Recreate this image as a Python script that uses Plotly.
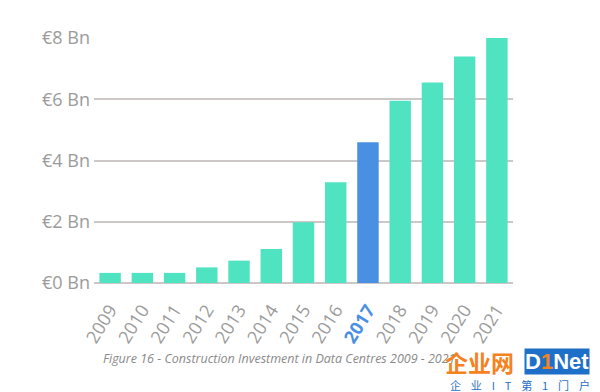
import plotly.graph_objects as go

years = ["2009", "2010", "2011", "2012", "2013", "2014", "2015", "2016", "2017", "2018", "2019", "2020", "2021"]
values = [0.33, 0.33, 0.33, 0.51, 0.73, 1.11, 1.98, 3.29, 4.6, 5.95, 6.55, 7.4, 8.0]
highlight_year = "2017"
y_ticks = [0, 2, 4, 6, 8]
y_tick_labels = ["€0 Bn", "€2 Bn", "€4 Bn", "€6 Bn", "€8 Bn"]
caption = "Figure 16 - Construction Investment in Data Centres 2009 - 2021"

TEAL = "#50E3C2"
BLUE = "#4A90E2"
colors = [BLUE if y == highlight_year else TEAL for y in years]
tick_text = [f"<b><span style='color:{BLUE}'>{y}</span></b>" if y == highlight_year else y for y in years]

fig = go.Figure(go.Bar(x=years, y=values, marker=dict(color=colors, line=dict(width=0))))

FONT = "Open Sans, sans-serif"
fig.update_layout(
    width=600, height=392,
    margin=dict(l=94, r=87, t=38, b=109),
    paper_bgcolor="white", plot_bgcolor="white",
    bargap=0.335,
    showlegend=False,
    font=dict(family=FONT, color="#9b9b9b"),
    xaxis=dict(
        tickmode="array", tickvals=years, ticktext=tick_text,
        tickangle=-58, tickfont=dict(size=18, color="#9b9b9b", family=FONT),
        showgrid=False, showline=False, ticks="", automargin=False,
        ticklabelstandoff=12,
    ),
    yaxis=dict(
        range=[0, 8], tickmode="array", tickvals=y_ticks, ticktext=y_tick_labels,
        tickfont=dict(size=18, color="#9b9b9b", family=FONT),
        showgrid=True, gridcolor="#cdc8c6", gridwidth=2,
        zeroline=True, zerolinecolor="#cdc8c6", zerolinewidth=2,
        showline=False, ticks="", automargin=False, ticklabelstandoff=3,
    ),
    annotations=[
        dict(text=f"<i>{caption}</i>", xref="paper", yref="paper", x=(279 - 94) / 419, y=(283 - 358) / 245,
             xanchor="center", yanchor="middle", showarrow=False,
             font=dict(size=12.5, color="#8a8a8a", family=FONT)),
        dict(text="<b>企业网</b>", xref="paper", yref="paper", x=(479 - 94) / 419, y=(283 - 362) / 245,
             xanchor="center", yanchor="middle", showarrow=False,
             font=dict(size=23, color="#F5821F", family="Noto Sans CJK SC")),
        dict(text="<b>D<span style='color:#F5821F'>1</span>Net</b>", xref="paper", yref="paper",
             x=(557 - 94) / 419, y=(283 - 362) / 245,
             xanchor="center", yanchor="middle", showarrow=False,
             bgcolor="#1E6FC8", borderpad=0,
             font=dict(size=22, color="white", family="Liberation Sans")),
        dict(text="企 &nbsp;&nbsp;&nbsp;业 &nbsp;&nbsp;&nbsp;I &nbsp;&nbsp;&nbsp;T &nbsp;&nbsp;&nbsp;第 &nbsp;&nbsp;&nbsp;1 &nbsp;&nbsp;&nbsp;门 &nbsp;&nbsp;&nbsp;户",
             xref="paper", yref="paper",
             x=(520 - 94) / 419, y=(283 - 385) / 245,
             xanchor="center", yanchor="middle", showarrow=False,
             font=dict(size=11, color="#1E6FC8", family="Noto Sans CJK SC")),
    ],
)

fig.write_html("out.html", config={"displayModeBar": False},
               post_script="document.body.style.margin='0';document.body.style.overflow='hidden';")
